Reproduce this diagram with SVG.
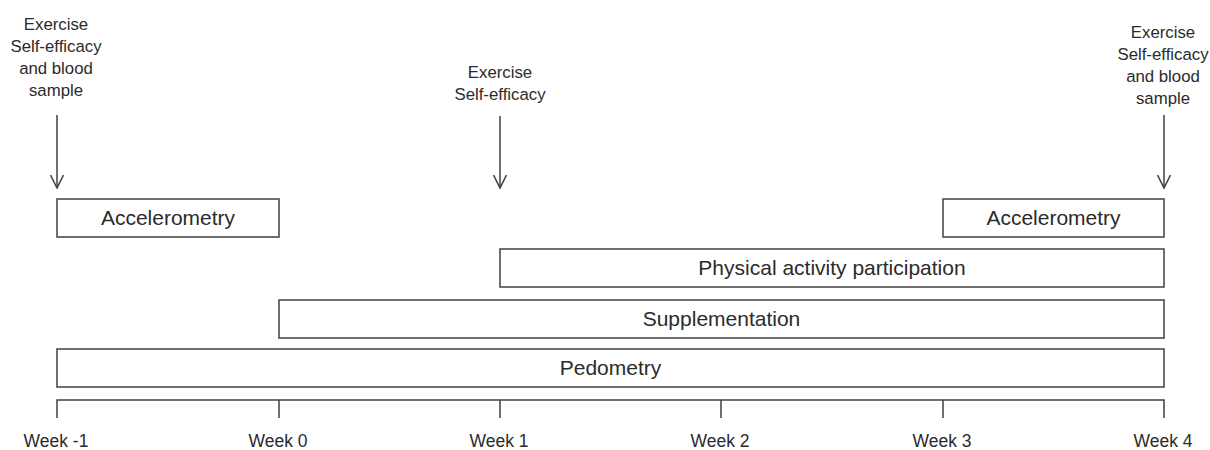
<svg xmlns="http://www.w3.org/2000/svg" width="1210" height="450" viewBox="0 0 1210 450">
<style>
.box{fill:#fff;stroke:#404040;stroke-width:1.5}
.lbl{font-family:"Liberation Sans",Arial,sans-serif;font-size:21px;fill:#2b2b2b;text-anchor:middle}
.note{font-family:"Liberation Sans",Arial,sans-serif;font-size:16.8px;fill:#2b2b2b;text-anchor:middle}
.wk{font-family:"Liberation Sans",Arial,sans-serif;font-size:17.5px;fill:#2b2b2b;text-anchor:middle}
.ln{stroke:#404040;stroke-width:1.5;fill:none}
</style>
<defs>
<marker id="ah" viewBox="0 0 14 14" refX="13" refY="7" markerWidth="14" markerHeight="14" markerUnits="userSpaceOnUse" orient="auto">
<path d="M0,0.5 L13,7 L0,13.5" fill="none" stroke="#404040" stroke-width="1.5"/>
</marker>
</defs>
<g id="annotations">
<text class="note" x="56"><tspan x="56" y="30">Exercise</tspan><tspan x="56" y="52">Self-efficacy</tspan><tspan x="56" y="74">and blood</tspan><tspan x="56" y="96">sample</tspan></text>
<text class="note" x="500"><tspan x="500" y="78">Exercise</tspan><tspan x="500" y="100">Self-efficacy</tspan></text>
<text class="note" x="1163"><tspan x="1163" y="38">Exercise</tspan><tspan x="1163" y="60">Self-efficacy</tspan><tspan x="1163" y="82">and blood</tspan><tspan x="1163" y="104">sample</tspan></text>
</g>
<g id="connectors">
<line class="ln" x1="57" y1="115" x2="57" y2="188" marker-end="url(#ah)"/>
<line class="ln" x1="500" y1="116" x2="500" y2="188" marker-end="url(#ah)"/>
<line class="ln" x1="1164" y1="115" x2="1164" y2="188" marker-end="url(#ah)"/>
</g>
<g id="accelerometry1">
<rect class="box" x="57" y="199" width="222" height="38"/>
<text class="lbl" x="168" y="225">Accelerometry</text>
</g>
<g id="accelerometry2">
<rect class="box" x="943" y="199" width="221" height="38"/>
<text class="lbl" x="1053.5" y="225">Accelerometry</text>
</g>
<g id="physical-activity">
<rect class="box" x="500" y="249" width="664" height="38"/>
<text class="lbl" x="832" y="275">Physical activity participation</text>
</g>
<g id="supplementation">
<rect class="box" x="279" y="300" width="885" height="38"/>
<text class="lbl" x="721.5" y="326">Supplementation</text>
</g>
<g id="pedometry">
<rect class="box" x="57" y="349" width="1107" height="38"/>
<text class="lbl" x="610.5" y="375">Pedometry</text>
</g>
<g id="timeline">
<path class="ln" d="M57,418 V400 H1164 V418 M279,400 V418 M500,400 V418 M721,400 V418 M943,400 V418"/>
<text class="wk" x="56" y="447">Week -1</text>
<text class="wk" x="278" y="447">Week 0</text>
<text class="wk" x="499" y="447">Week 1</text>
<text class="wk" x="720" y="447">Week 2</text>
<text class="wk" x="942" y="447">Week 3</text>
<text class="wk" x="1163" y="447">Week 4</text>
</g>
</svg>
